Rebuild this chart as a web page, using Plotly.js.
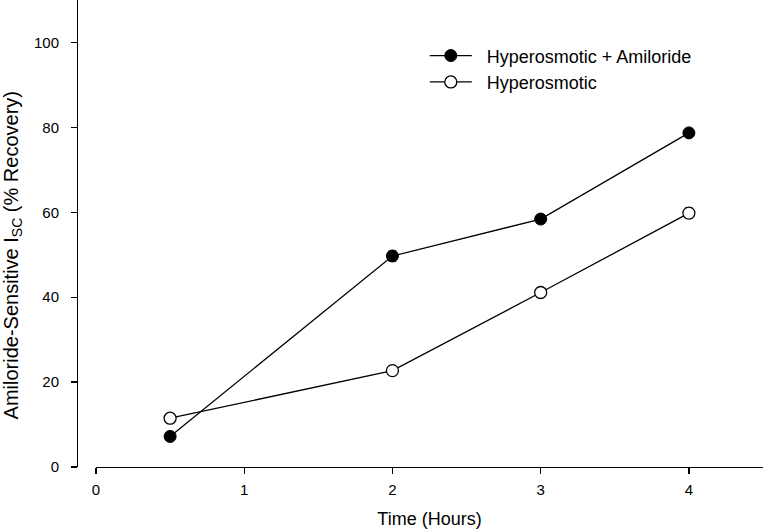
<!DOCTYPE html>
<html>
<head>
<meta charset="utf-8">
<script src="https://cdn.plot.ly/plotly-3.0.1.min.js"></script>
<style>html,body{margin:0;padding:0;background:#fff;}#chart{width:763px;height:529px;}</style>
</head>
<body>
<div id="chart"></div>
<script>
const timeHours = [0.5, 2, 3, 4];
const amilorideValues = [7.2, 49.7, 58.4, 78.7];
const amilorideErrors = [0.8, 1.2, 0.9, 1.0];
const hyperValues = [11.5, 22.7, 41.1, 59.8];
const hyperErrors = [0.8, 0.8, 0.8, 1.2];
const xTicks = [0, 1, 2, 3, 4];
const yTicks = [0, 20, 40, 60, 80, 100];
const seriesNames = ['Hyperosmotic + Amiloride', 'Hyperosmotic'];
const yTitle = 'Amiloride-Sensitive I<sub>SC</sub> (% Recovery)';

const font = {family: 'Liberation Sans, Arial, sans-serif', color: '#000'};
const pad = '\u00a0\u00a0';

const traces = [
  {
    x: timeHours, y: amilorideValues, name: pad + seriesNames[0],
    type: 'scatter', mode: 'lines+markers',
    line: {color: '#000', width: 1.3},
    marker: {symbol: 'circle', size: 12, color: '#000', line: {color: '#000', width: 1}},
    error_y: {type: 'data', array: amilorideErrors, visible: true, color: '#000', thickness: 1, width: 4}
  },
  {
    x: timeHours, y: hyperValues, name: pad + seriesNames[1],
    type: 'scatter', mode: 'lines+markers',
    line: {color: '#000', width: 1.3},
    marker: {symbol: 'circle', size: 12, color: '#fff', line: {color: '#000', width: 1.3}},
    error_y: {type: 'data', array: hyperErrors, visible: true, color: '#000', thickness: 1, width: 4}
  }
];

const layout = {
  width: 763, height: 529,
  margin: {l: 77, r: 0, t: 0, b: 62},
  paper_bgcolor: '#fff', plot_bgcolor: '#fff',
  font: Object.assign({size: 15}, font),
  showlegend: true,
  legend: {
    x: 0.507, y: 0.92, xanchor: 'left', yanchor: 'top',
    bgcolor: 'rgba(0,0,0,0)', borderwidth: 0,
    itemwidth: 42,
    font: Object.assign({size: 18}, font),
    tracegroupgap: 0
  },
  xaxis: {
    domain: [0.0277, 1],
    range: [0, 4.5],
    tickvals: xTicks,
    ticktext: xTicks.map(String),
    showgrid: false, zeroline: false,
    showline: true, linecolor: '#000', linewidth: 1.3,
    ticks: 'outside', ticklen: 6, tickwidth: 1.3, tickcolor: '#000',
    ticklabelstandoff: 3,
    tickfont: Object.assign({size: 15}, font),
    title: {text: 'Time (Hours)', font: Object.assign({size: 18}, font), standoff: 16}
  },
  yaxis: {
    anchor: 'free', position: 0,
    range: [0, 110],
    tickvals: yTicks,
    ticktext: yTicks.map(String),
    showgrid: false, zeroline: false,
    showline: true, linecolor: '#000', linewidth: 1.3,
    ticks: 'outside', ticklen: 6, tickwidth: 1.3, tickcolor: '#000',
    ticklabelstandoff: 9,
    tickfont: Object.assign({size: 15}, font)
  },
  annotations: [{
    text: yTitle,
    xref: 'paper', yref: 'paper',
    x: -0.094, y: 0.452,
    xanchor: 'center', yanchor: 'middle',
    textangle: -90, showarrow: false, borderpad: 0,
    font: Object.assign({size: 20}, font)
  }]
};

Plotly.newPlot('chart', traces, layout, {displayModeBar: false, staticPlot: true});
</script>
</body>
</html>
